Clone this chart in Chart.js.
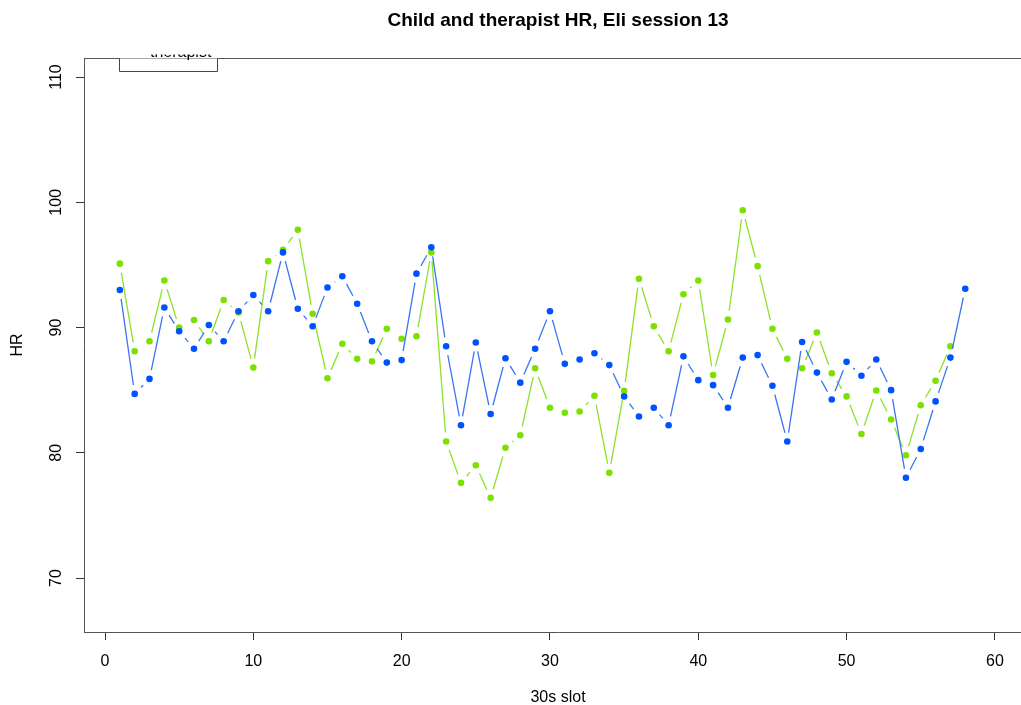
<!DOCTYPE html>
<html><head><meta charset="utf-8">
<script src="https://cdn.jsdelivr.net/npm/chart.js@4.4.1/dist/chart.umd.min.js"></script>
<style>
html,body{margin:0;padding:0;background:#fff;overflow:hidden;width:1021px;height:705px}
canvas{display:block}
</style></head>
<body><canvas id="c" width="1040" height="705"></canvas>
<script>
const titleText = 'Child and therapist HR, Eli session 13';
const xLabel = '30s slot';
const yLabel = 'HR';
const legendVisibleText = 'therapist';
const childHR = [95.1, 88.1, 88.9, 93.75, 90.0, 90.6, 88.9, 92.2, 91.2, 86.8,
  95.3, 96.2, 97.8, 91.1, 85.95, 88.7, 87.5, 87.3, 89.9, 89.1,
  89.3, 96.0, 80.9, 77.6, 79.0, 76.4, 80.4, 81.4, 86.75, 83.6,
  83.2, 83.3, 84.55, 78.4, 84.95, 93.9, 90.1, 88.1, 92.66, 93.75,
  86.2, 90.64, 99.36, 94.9, 89.9, 87.5, 86.75, 89.6, 86.35, 84.5,
  81.5, 84.97, 82.66, 79.8, 83.8, 85.75, 88.5];
const therapistHR = [93.0, 84.7, 85.9, 91.6, 89.7, 88.3, 90.2, 88.9, 91.3, 92.6,
  91.3, 96.0, 91.5, 90.1, 93.2, 94.1, 91.9, 88.9, 87.2, 87.4,
  94.3, 96.4, 88.5, 82.2, 88.8, 83.1, 87.55, 85.6, 88.3, 91.3,
  87.1, 87.45, 87.95, 87.0, 84.5, 82.9, 83.6, 82.2, 87.7, 85.8,
  85.4, 83.6, 87.6, 87.8, 85.35, 80.9, 88.85, 86.4, 84.25, 87.26,
  86.15, 87.45, 85.0, 78.0, 80.3, 84.1, 87.6, 93.1];
const xTicks = [0, 10, 20, 30, 40, 50, 60];
const yTicks = [70, 80, 90, 100, 110];

const FONT = "'Liberation Sans', Arial, sans-serif";
Chart.defaults.font.family = FONT;
const GAP = 9;

function toPoints(arr) { return arr.map((v, i) => ({x: i + 1, y: v})); }

const gapDash = {
  borderDash: (ctx) => {
    const dx = ctx.p1.x - ctx.p0.x, dy = ctx.p1.y - ctx.p0.y;
    const L = Math.hypot(dx, dy);
    if (L <= 2 * GAP) return [0, L + 200];
    return [0, GAP, L - 2 * GAP, GAP + 200];
  }
};

const decor = {
  id: 'decor',
  afterDraw(chart) {
    const {ctx, chartArea} = chart;
    const y = chart.scales.y;
    ctx.save();
    ctx.fillStyle = '#000';
    ctx.font = '16px ' + FONT;
    ctx.textAlign = 'center';
    ctx.textBaseline = 'middle';
    yTicks.forEach(v => {
      const py = y.getPixelForValue(v);
      ctx.save();
      ctx.translate(57, py);
      ctx.rotate(-Math.PI / 2);
      ctx.fillText(String(v), 0, 0);
      ctx.restore();
    });
    ctx.strokeStyle = '#555';
    ctx.lineWidth = 1;
    ctx.beginPath();
    ctx.moveTo(chartArea.left, Math.round(chartArea.top) + 0.5);
    ctx.lineTo(chartArea.right, Math.round(chartArea.top) + 0.5);
    ctx.stroke();
    const lx = 119.5, rx = 217.5, by = 71.5, ty = Math.round(chartArea.top) + 0.5;
    ctx.fillStyle = '#fff';
    ctx.fillRect(lx, ty, rx - lx, by - ty);
    ctx.save();
    ctx.beginPath();
    ctx.rect(lx, 54.5, rx - lx, by - 54.5);
    ctx.clip();
    ctx.fillStyle = '#000';
    ctx.textAlign = 'left';
    ctx.textBaseline = 'alphabetic';
    ctx.font = '16px ' + FONT;
    ctx.fillText(legendVisibleText, 150, 57);
    ctx.restore();
    ctx.strokeStyle = '#444';
    ctx.beginPath();
    ctx.moveTo(lx, ty);
    ctx.lineTo(lx, by);
    ctx.lineTo(rx, by);
    ctx.lineTo(rx, ty);
    ctx.stroke();
    ctx.restore();
  }
};

new Chart(document.getElementById('c'), {
  type: 'line',
  data: {
    datasets: [
      {
        label: 'therapist',
        data: toPoints(therapistHR),
        borderColor: '#3a74f2',
        backgroundColor: '#0052ff',
        pointBackgroundColor: '#0052ff',
        borderWidth: 1.3,
        pointRadius: 3.3,
        pointBorderWidth: 0,
        tension: 0,
        segment: gapDash
      },
      {
        label: 'child',
        data: toPoints(childHR),
        borderColor: '#8ce22a',
        backgroundColor: '#7ce000',
        pointBackgroundColor: '#7ce000',
        borderWidth: 1.3,
        pointRadius: 3.3,
        pointBorderWidth: 0,
        tension: 0,
        segment: gapDash
      }
    ]
  },
  options: {
    responsive: false,
    animation: false,
    layout: {padding: {left: 0, right: 8, top: 0, bottom: 0}},
    plugins: {
      legend: {display: false},
      tooltip: {enabled: false},
      title: {
        display: true,
        text: titleText,
        fullSize: false,
        color: '#000',
        font: {family: FONT, size: 19, weight: 'bold'},
        padding: {top: 9, bottom: 26.2}
      }
    },
    scales: {
      x: {
        type: 'linear',
        min: -1.416,
        max: 62.5,
        afterBuildTicks: s => { s.ticks = xTicks.map(v => ({value: v})); },
        afterFit: s => { s.height = 73; },
        grid: {display: true, drawOnChartArea: false, drawTicks: true, tickLength: 8, tickColor: '#333', tickWidth: 1},
        border: {display: true, color: '#555', width: 1},
        ticks: {color: '#000', font: {size: 16}, padding: 12, maxRotation: 0, autoSkip: false},
        title: {display: true, text: xLabel, color: '#000', font: {size: 16}, padding: {top: 0, bottom: -2}}
      },
      y: {
        type: 'linear',
        min: 65.69,
        max: 111.52,
        afterBuildTicks: s => { s.ticks = yTicks.map(v => ({value: v})); },
        afterFit: s => { s.width = 84; },
        grid: {display: true, drawOnChartArea: false, drawTicks: true, tickLength: 8, tickColor: '#333', tickWidth: 1},
        border: {display: true, color: '#555', width: 1},
        ticks: {display: false},
        title: {display: true, text: yLabel, color: '#000', font: {size: 16}, padding: {top: 8.4, bottom: 0}}
      }
    }
  },
  plugins: [decor]
});
</script>
</body></html>
